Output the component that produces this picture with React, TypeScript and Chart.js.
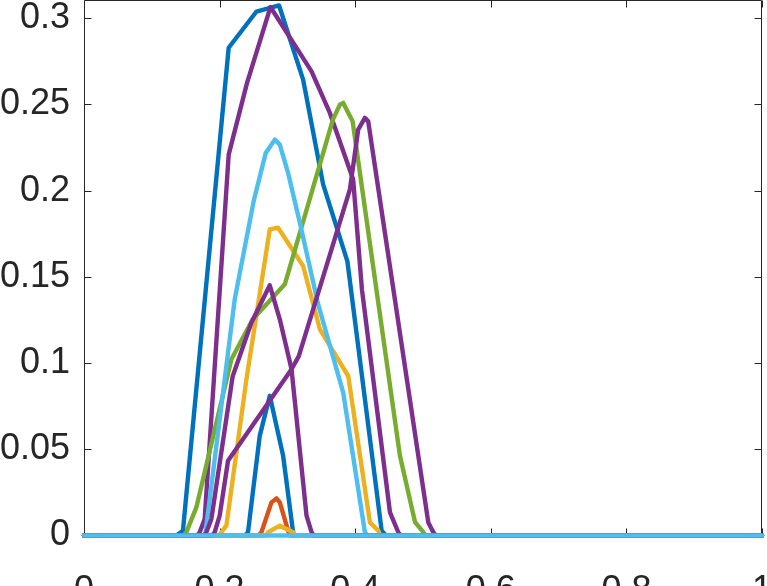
import React, { useEffect, useRef } from "react";
import { Chart, registerables } from "chart.js";

Chart.register(...registerables);

// ---- axis ticks ----
const xTicks = [0, 0.2, 0.4, 0.6, 0.8, 1];
const xTickLabels = ["0", "0.2", "0.4", "0.6", "0.8", "1"];
const yTicks = [0, 0.05, 0.1, 0.15, 0.2, 0.25, 0.3];
const yTickLabels = ["0", "0.05", "0.1", "0.15", "0.2", "0.25", "0.3"];
const xMin = 0;
const xMax = 1;
const yMin = 0;
const yMax = 0.31;

// ---- series (x, y) ----
const blueBigX = [0, 0.1362, 0.1459, 0.2134, 0.2544, 0.2877, 0.3232, 0.3527, 0.3885, 0.439, 0.4453, 1];
const blueBigY = [0, 0, 0.0028, 0.2829, 0.3039, 0.3074, 0.2644, 0.2036, 0.159, 0.0028, 0, 0];

const orangeX = [0, 0.257, 0.2617, 0.2765, 0.2839, 0.2888, 0.301, 0.304, 1];
const orangeY = [0, 0, 0.0019, 0.0192, 0.0215, 0.0192, 0.0028, 0, 0];

const yellowBigX = [0, 0.199, 0.2027, 0.21, 0.2396, 0.274, 0.2863, 0.3232, 0.3479, 0.3897, 0.4217, 0.434, 0.437, 1];
const yellowBigY = [0, 0, 0.002, 0.0057, 0.0906, 0.1775, 0.1785, 0.1563, 0.1196, 0.0925, 0.0076, 0.0028, 0, 0];

const purpleBigX = [0, 0.167, 0.1706, 0.178, 0.2134, 0.2405, 0.275, 0.3356, 0.3626, 0.397, 0.4099, 0.4513, 0.4635, 0.467, 1];
const purpleBigY = [0, 0, 0.0019, 0.0096, 0.2209, 0.2625, 0.3065, 0.2692, 0.2451, 0.2065, 0.1428, 0.0134, 0.0019, 0, 0];

const greenX = [0, 0.147, 0.151, 0.1657, 0.2174, 0.2489, 0.2962, 0.3671, 0.3774, 0.3823, 0.3962, 0.466, 0.4882, 0.5004, 0.504, 1];
const greenY = [0, 0, 0.002, 0.0163, 0.1022, 0.1254, 0.1457, 0.2412, 0.2499, 0.2509, 0.2402, 0.0462, 0.0078, 0.0019, 0, 0];

const lightBigX = [0, 0.1787, 0.2223, 0.2508, 0.2681, 0.2814, 0.2888, 0.301, 0.3183, 0.3454, 0.3823, 0.4143, 0.418, 1];
const lightBigY = [0, 0, 0.137, 0.1949, 0.2219, 0.2296, 0.2267, 0.2103, 0.1816, 0.134, 0.0829, 0.002, 0, 0];

const blueSmallX = [0, 0.237, 0.2419, 0.2592, 0.274, 0.2937, 0.3084, 0.312, 1];
const blueSmallY = [0, 0, 0.0019, 0.0578, 0.081, 0.0462, 0.0019, 0, 0];

const yellowTinyX = [0, 0.268, 0.2715, 0.2888, 0.3084, 0.312, 1];
const yellowTinyY = [0, 0, 0.0019, 0.0057, 0.0019, 0, 0];

const purpleMidX = [0, 0.177, 0.1805, 0.1879, 0.2193, 0.247, 0.274, 0.2888, 0.3061, 0.3282, 0.3356, 0.339, 1];
const purpleMidY = [0, 0, 0.0019, 0.0096, 0.0924, 0.1235, 0.1451, 0.1254, 0.0964, 0.0115, 0.002, 0, 0];

const purpleRightX = [0, 0.189, 0.1928, 0.2001, 0.2124, 0.3061, 0.3168, 0.3922, 0.4044, 0.4143, 0.4192, 0.5078, 0.5152, 0.519, 1];
const purpleRightY = [0, 0, 0.002, 0.0115, 0.0433, 0.0964, 0.104, 0.2007, 0.2354, 0.2422, 0.2402, 0.0076, 0.0019, 0, 0];

const baseX = [0, 1];
const baseY = [0, 0];

const BLUE = "#0072BD";
const ORANGE = "#D95319";
const YELLOW = "#EDB120";
const PURPLE = "#7E2F8E";
const GREEN = "#77AC30";
const LIGHT = "#4DBEEE";
const AXIS = "#262626";
const FONT = "'Liberation Sans', Arial, Helvetica, sans-serif";

const seriesList: [number[], number[], string][] = [
  [blueBigX, blueBigY, BLUE],
  [orangeX, orangeY, ORANGE],
  [yellowBigX, yellowBigY, YELLOW],
  [purpleBigX, purpleBigY, PURPLE],
  [greenX, greenY, GREEN],
  [lightBigX, lightBigY, LIGHT],
  [blueSmallX, blueSmallY, BLUE],
  [yellowTinyX, yellowTinyY, YELLOW],
  [purpleMidX, purpleMidY, PURPLE],
  [purpleRightX, purpleRightY, PURPLE],
  [baseX, baseY, LIGHT],
];

const boxPlugin = {
  id: "matlabBox",
  beforeDatasetsDraw(chart: any) {
    const { ctx, chartArea: a, scales } = chart;
    const l = Math.round(a.left) + 0.5;
    const r = Math.round(a.right) - 0.5;
    const t = Math.round(a.top) - 0.5;
    const b = Math.round(a.bottom) - 0.5;
    const tl = 7;
    ctx.save();
    ctx.strokeStyle = AXIS;
    ctx.lineWidth = 1;
    ctx.beginPath();
    ctx.rect(l, t, r - l, b - t);
    for (const v of xTicks) {
      const px = Math.round(scales.x.getPixelForValue(v)) + 0.5;
      ctx.moveTo(px, b);
      ctx.lineTo(px, b - tl);
      ctx.moveTo(px, t);
      ctx.lineTo(px, t + tl);
    }
    for (const v of yTicks) {
      const py = Math.round(scales.y.getPixelForValue(v)) + 0.5;
      ctx.moveTo(l, py);
      ctx.lineTo(l + tl, py);
      ctx.moveTo(r, py);
      ctx.lineTo(r - tl, py);
    }
    ctx.stroke();
    ctx.restore();
  },
};

export default function App() {
  const ref = useRef<HTMLCanvasElement | null>(null);

  useEffect(() => {
    if (!ref.current) return;
    const datasets = seriesList.map(([xs, ys, color], i) => ({
      data: xs.map((x, k) => ({ x, y: ys[k] })),
      borderColor: color,
      backgroundColor: color,
      borderWidth: 4.4,
      pointRadius: 0,
      pointHoverRadius: 0,
      tension: 0,
      fill: false,
      clip: false as any,
      borderJoinStyle: "round" as const,
      borderCapStyle: "round" as const,
      order: -i,
    }));
    const chart = new Chart(ref.current, {
      type: "line",
      data: { datasets },
      options: {
        responsive: false,
        animation: false,
        devicePixelRatio: 1,
        events: [],
        layout: { padding: { left: 0, right: 5, top: 1, bottom: 0 } },
        plugins: { legend: { display: false }, tooltip: { enabled: false } },
        scales: {
          x: {
            type: "linear",
            position: "bottom",
            min: xMin,
            max: xMax,
            grid: { display: false, drawTicks: false },
            border: { display: false },
            afterBuildTicks: (s: any) => {
              s.ticks = xTicks.map((v) => ({ value: v }));
            },
            afterFit: (s: any) => {
              s.height = 84.5;
              s.paddingLeft = 0;
              s.paddingRight = 0;
              s.paddingTop = 0;
              s.paddingBottom = 0;
            },
            ticks: {
              autoSkip: false,
              maxRotation: 0,
              padding: 34,
              color: AXIS,
              font: { family: FONT, size: 36 },
              callback: (_v: any, i: number) => xTickLabels[i],
            },
          },
          y: {
            type: "linear",
            position: "left",
            min: yMin,
            max: yMax,
            grid: { display: false, drawTicks: false },
            border: { display: false },
            afterBuildTicks: (s: any) => {
              s.ticks = yTicks.map((v) => ({ value: v }));
            },
            afterFit: (s: any) => {
              s.width = 84;
              s.paddingLeft = 0;
              s.paddingRight = 0;
              s.paddingTop = 0;
              s.paddingBottom = 0;
            },
            ticks: {
              autoSkip: false,
              padding: 14,
              color: AXIS,
              font: { family: FONT, size: 36 },
              callback: (_v: any, i: number) => yTickLabels[i],
            },
          },
        },
      },
      plugins: [boxPlugin],
    });
    return () => chart.destroy();
  }, []);

  return (
    <div style={{ position: "fixed", left: 0, top: 0, width: 767, height: 620, background: "#fff" }}>
      <canvas ref={ref} width={767} height={620} style={{ display: "block" }} />
    </div>
  );
}
